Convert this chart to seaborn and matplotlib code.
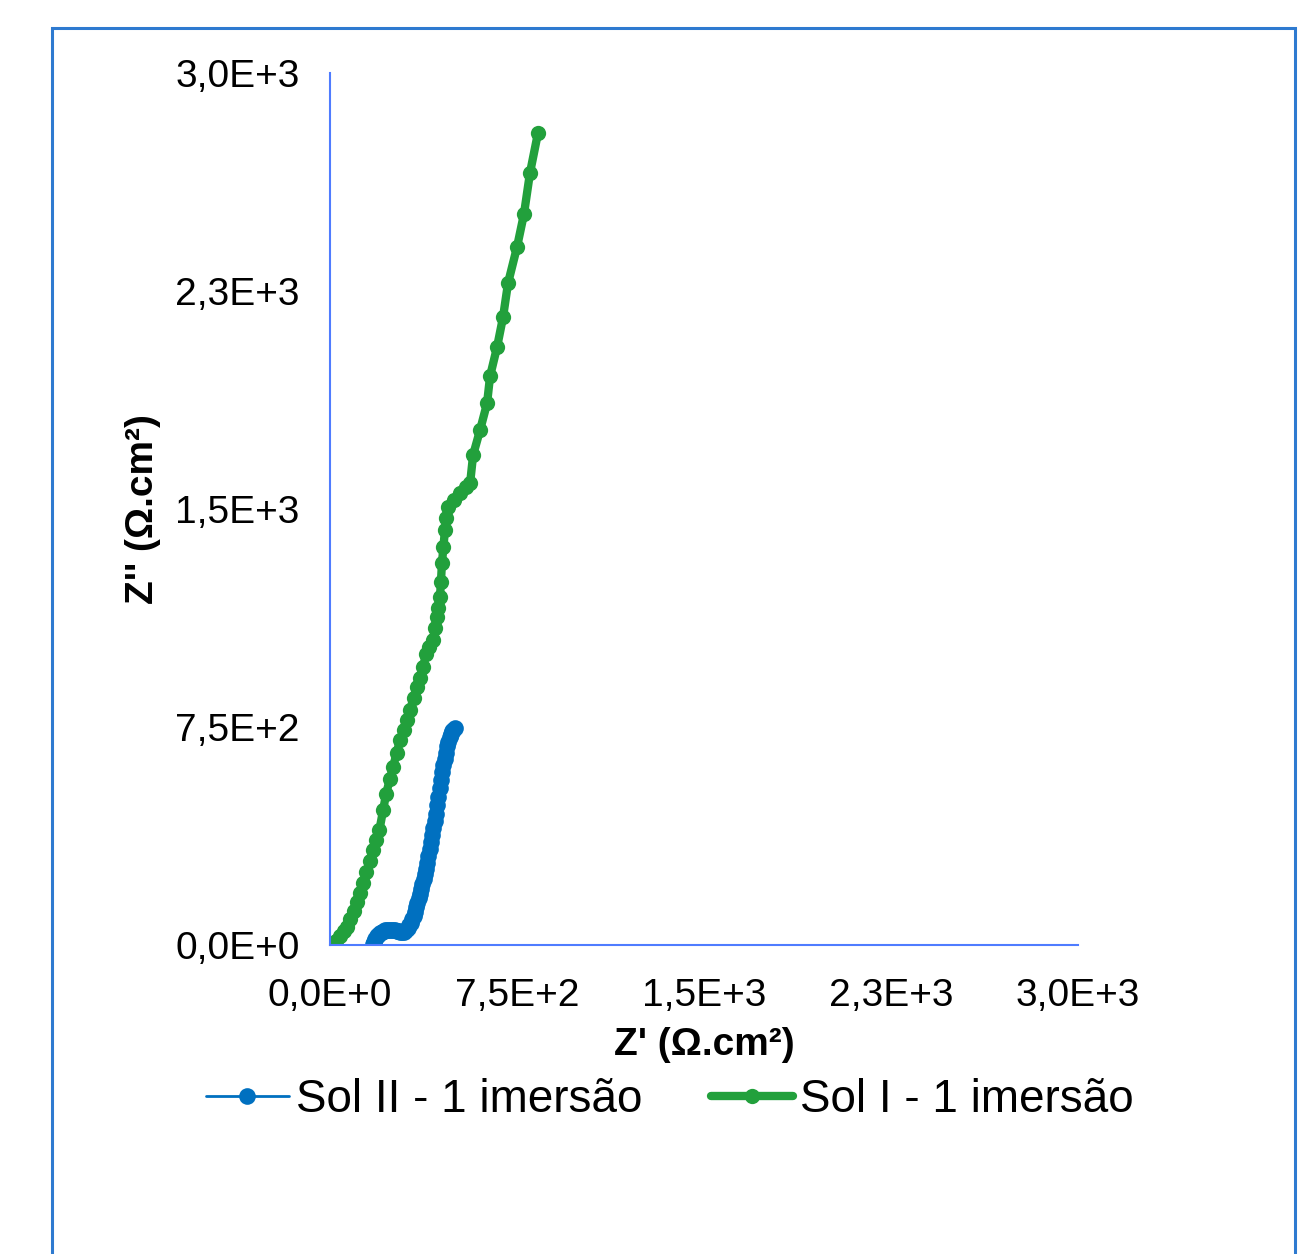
import numpy as np
import pandas as pd
import matplotlib
matplotlib.use('Agg')
import matplotlib.pyplot as plt
import seaborn as sns
from matplotlib.patches import Rectangle

# data
sol2_re = [172, 176, 182, 188, 194, 200, 208, 215, 222, 230, 238, 245, 252, 260,
           268, 275, 282, 290, 298, 305, 312, 318, 324, 330, 335, 340, 345, 350,
           355, 360, 365, 370, 375, 380, 385, 390, 395, 400, 405, 410, 415, 420,
           425, 430, 435, 440, 445, 450, 455, 460, 465, 470, 475, 480, 485, 490,
           495, 500]
sol2_im = [2, 10, 20, 30, 36, 42, 46, 48, 50, 51, 52, 52, 52, 51,
           49, 47, 45, 44, 46, 52, 60, 68, 77, 88, 100, 115, 130, 145,
           160, 175, 192, 210, 228, 245, 263, 282, 305, 330, 355, 380, 402, 425,
           452, 480, 510, 540, 568, 595, 618, 640, 662, 685, 700, 715, 725, 735,
           741, 746]

sol1_re = [12, 25, 40, 55, 68, 82, 95, 108, 120, 133,
           146, 160, 172, 185, 198, 213, 225, 240, 253, 267,
           281, 295, 309, 321, 335, 349, 361, 373, 385, 399,
           413, 421, 429, 435, 441, 445, 449, 455, 461, 467,
           473, 497, 521, 545, 562, 574, 602, 630, 642, 670,
           694, 714, 750, 778, 802, 834]
sol1_im = [0, 15, 30, 48, 62, 90, 118, 148, 179, 215,
           250, 290, 327, 360, 395, 464, 520, 570, 612, 660,
           705, 740, 774, 808, 850, 888, 920, 956, 1000, 1025,
           1049, 1090, 1128, 1160, 1197, 1250, 1314, 1370, 1428, 1470,
           1507, 1530, 1555, 1575, 1589, 1686, 1772, 1864, 1957, 2057,
           2160, 2277, 2401, 2515, 2656, 2793]

series_names = ["Sol II - 1 imersão", "Sol I - 1 imersão"]
tick_values = [0, 750, 1500, 2250, 3000]
tick_labels = ["0,0E+0", "7,5E+2", "1,5E+3", "2,3E+3", "3,0E+3"]

df2 = pd.DataFrame({"re": sol2_re, "im": sol2_im})
df1 = pd.DataFrame({"re": sol1_re, "im": sol1_im})

sns.set_style("white")
plt.rcParams['font.family'] = ['Liberation Sans', 'DejaVu Sans']
plt.rcParams['text.color'] = 'black'
plt.rcParams['axes.labelcolor'] = 'black'

axis_blue = '#4f7cff'

fig = plt.figure(figsize=(13.01, 12.54), dpi=100)
ax = fig.add_axes([330 / 1301, 1 - 945 / 1254, 748 / 1301, 872 / 1254])

sns.lineplot(data=df2, x="re", y="im", sort=False, ax=ax, color='#0070c0',
             linewidth=2, marker='o', markersize=12, markeredgewidth=0,
             label=series_names[0])
sns.lineplot(data=df1, x="re", y="im", sort=False, ax=ax, color='#22a03c',
             linewidth=6, marker='o', markersize=11, markeredgewidth=0,
             label=series_names[1])

ax.set_xlim(0, 3000)
ax.set_ylim(0, 3000)
ax.set_xticks(tick_values)
ax.set_xticklabels(tick_labels)
ax.set_yticks(tick_values)
ax.set_yticklabels(tick_labels)
ax.tick_params(axis='both', direction='out', length=6, width=1.5,
               color=axis_blue, labelsize=28, labelcolor='black')
ax.tick_params(axis='y', pad=16)
ax.tick_params(axis='x', pad=18)

for side in ['top', 'right']:
    ax.spines[side].set_visible(False)
for side in ['left', 'bottom']:
    ax.spines[side].set_color(axis_blue)
    ax.spines[side].set_linewidth(1.5)
ax.grid(False)

ax.set_xlabel("Z' (Ω.cm²)", fontsize=28, fontweight='bold', labelpad=9)
ax.set_ylabel("Z'' (Ω.cm²)", fontsize=28, fontweight='bold', labelpad=10)

handles, labels = ax.get_legend_handles_labels()
ax.get_legend().remove()
fig.legend(handles, labels, loc='center', ncol=2, frameon=False,
           bbox_to_anchor=(670 / 1301, 1 - 1100 / 1254), fontsize=33,
           handlelength=1.8, handletextpad=0.15, columnspacing=1.5)

# chart area border
fig.add_artist(Rectangle((52 / 1301, -0.05), (1295 - 52) / 1301, 1.05 - 28 / 1254,
                         transform=fig.transFigure, fill=False,
                         edgecolor='#2e7ad0', linewidth=2.2))

fig.savefig("out.png", dpi=100)
plt.close(fig)
